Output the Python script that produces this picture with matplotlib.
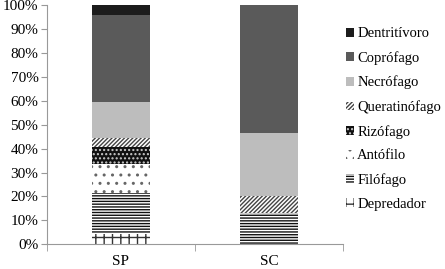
import numpy as np
import matplotlib.pyplot as plt

plt.rcParams['font.family'] = ['Liberation Serif', 'DejaVu Serif']
plt.rcParams['hatch.linewidth'] = 1.0

sites = ["SP", "SC"]
groups = ["Depredador", "Filófago", "Antófilo", "Rizófago",
          "Queratinófago", "Necrófago", "Coprófago", "Dentritívoro"]
# percent per group, bottom to top
depredador = [4.5, 0.0]
filofago = [17.0, 13.0]
antofilo = [12.0, 0.0]
rizofago = [7.3, 0.0]
queratinofago = [3.5, 7.0]
necrofago = [15.1, 26.7]
coprofago = [36.7, 53.3]
dentritivoro = [3.9, 0.0]

values = [depredador, filofago, antofilo, rizofago,
          queratinofago, necrofago, coprofago, dentritivoro]

# (facecolor, hatch color, hatch)
styles = [
    ("white", "#333333", "++"),
    ("white", "#111111", "------"),
    ("white", "#666666", ".."),
    ("#111111", "#cccccc", "...."),
    ("white", "#444444", "////////"),
    ("#bdbdbd", "#bdbdbd", None),
    ("#5a5a5a", "#5a5a5a", None),
    ("#1c1c1c", "#1c1c1c", None),
]

fig = plt.figure(figsize=(4.45, 2.69), dpi=100)
ax = fig.add_axes([0.105, 0.092, 0.666, 0.888])

x = np.arange(len(sites))
bottom = np.zeros(len(sites))
handles = []
for name, vals, (fc, hc, h) in zip(groups, values, styles):
    b = ax.bar(x, vals, width=0.39, bottom=bottom, color=fc,
               edgecolor=hc, hatch=h, linewidth=0, label=name)
    handles.append(b)
    bottom += np.array(vals)

ax.set_xlim(-0.5, 1.5)
ax.set_ylim(0, 100)
ax.set_yticks(np.arange(0, 101, 10))
ax.set_yticklabels([f"{v}%" for v in range(0, 101, 10)], fontsize=11)
ax.set_xticks(x)
ax.set_xticklabels(sites, fontsize=11)
ax.tick_params(axis='x', length=0, pad=8)
ax.set_xticks([-0.5, 0.5, 1.5], minor=True)
ax.tick_params(axis='x', which='minor', length=5, color='#999999')
ax.tick_params(axis='y', length=4, color='#999999', pad=2)
for s in ['top', 'right']:
    ax.spines[s].set_visible(False)
for s in ['left', 'bottom']:
    ax.spines[s].set_color('#999999')

ax.legend(handles[::-1], groups[::-1], loc='upper left',
          bbox_to_anchor=(0.765, 0.92), bbox_transform=fig.transFigure,
          frameon=False, fontsize=10.5, handlelength=0.55, handleheight=0.55,
          handletextpad=0.2, labelspacing=0.74, borderaxespad=0)

fig.savefig("out.png", dpi=100)
